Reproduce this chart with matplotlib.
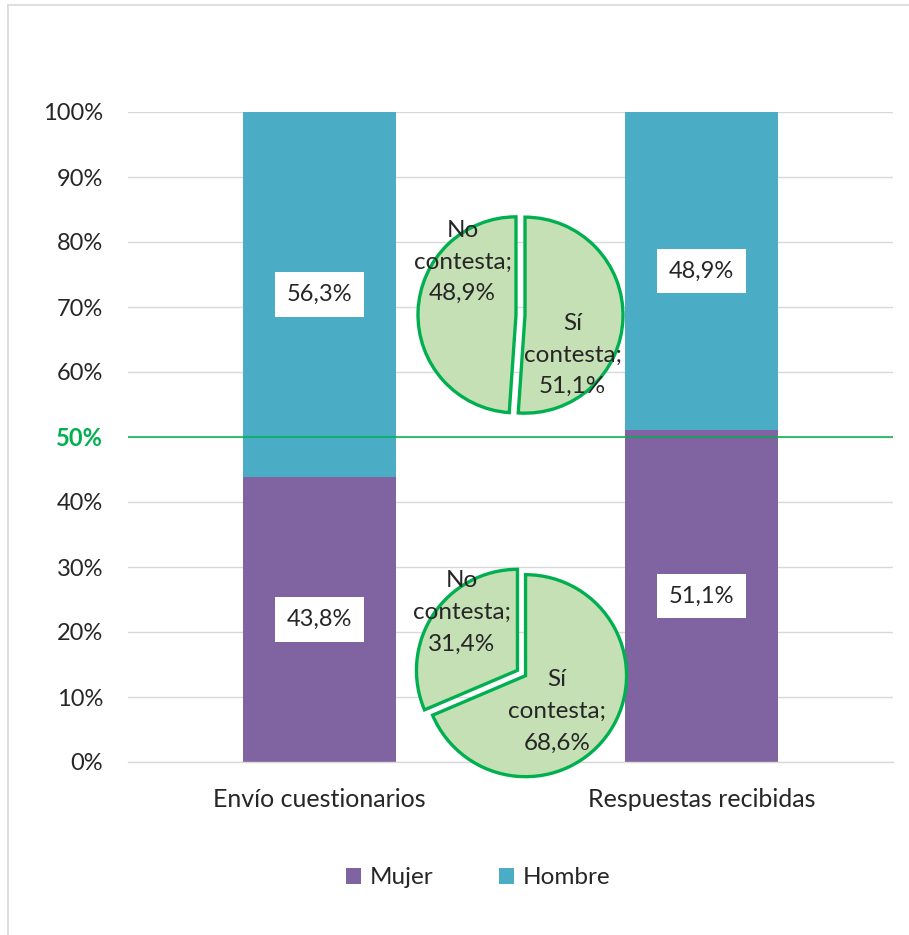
import matplotlib
matplotlib.use("Agg")
import matplotlib.pyplot as plt
from matplotlib.patches import Patch
from matplotlib.lines import Line2D

plt.rcParams['font.family'] = ['Lato', 'DejaVu Sans']

# Data
categories = ["Envío cuestionarios", "Respuestas recibidas"]
mujer = [43.8, 51.1]
hombre = [56.3, 48.9]
series_names = ["Mujer", "Hombre"]

pie_labels = ["Sí\ncontesta;", "No\ncontesta;"]
pie_top = [51.1, 48.9]
pie_bottom = [68.6, 31.4]

yticks = list(range(0, 101, 10))
reference_level = 50

PURPLE = "#8064A2"
TEAL = "#4BACC6"
GREEN = "#00B050"
PIE_FILL = "#C5E0B4"
GRID = "#D9D9D9"
TEXT = "#262626"

W, H = 909, 935
fig = plt.figure(figsize=(W / 100, H / 100), dpi=100)


def fx(px):
    return px / W


def fy(py):
    return 1 - py / H


def pct(v):
    return f"{v:.1f}".replace(".", ",") + "%"


# Chart area border (top and left edges)
fig.add_artist(Line2D([fx(8), fx(8)], [fy(5), 0], color=GRID, lw=1.2))
fig.add_artist(Line2D([fx(8), 1], [fy(5), fy(5)], color=GRID, lw=1.2))

# Main stacked bar axes
left, right, top, bottom = 128, 893, 112, 762
ax = fig.add_axes([fx(left), fy(bottom), fx(right - left), (bottom - top) / H])
x = list(range(len(categories)))
bw = 0.4
ax.bar(x, mujer, width=bw, color=PURPLE, zorder=2)
ax.bar(x, hombre, width=bw, bottom=mujer, color=TEAL, zorder=2)

box = dict(boxstyle="square,pad=0.5", fc="white", ec="none")
for i in x:
    ax.text(i, mujer[i] / 2, pct(mujer[i]), ha="center", va="center",
            fontsize=17, color=TEXT, bbox=box, zorder=4)
    ax.text(i, mujer[i] + hombre[i] / 2, pct(hombre[i]), ha="center",
            va="center", fontsize=17, color=TEXT, bbox=box, zorder=4)

ax.axhline(reference_level, color=GREEN, lw=1.3, zorder=3, alpha=0.85)

ax.set_xlim(-0.5, len(categories) - 0.5)
ax.set_ylim(0, 100)
ax.set_yticks(yticks)
ax.set_yticklabels([f"{t}%" for t in yticks])
ax.set_xticks(x)
ax.set_xticklabels(categories, fontsize=18)
ax.tick_params(axis="both", length=0, labelcolor=TEXT)
ax.tick_params(axis="y", pad=18, labelsize=17)
ax.tick_params(axis="x", pad=19)
for lbl, t in zip(ax.get_yticklabels(), yticks):
    if t == reference_level:
        lbl.set_color(GREEN)
        lbl.set_fontweight("bold")
ax.yaxis.grid(True, color=GRID, lw=1.0, zorder=0)
ax.set_axisbelow(True)
for s in ["left", "right", "top"]:
    ax.spines[s].set_visible(False)
ax.spines["bottom"].set_color(GRID)
ax.spines["bottom"].set_linewidth(1.0)

# Legend
handles = [Patch(facecolor=PURPLE, label=series_names[0]),
           Patch(facecolor=TEAL, label=series_names[1])]
fig.legend(handles=handles, loc="center", bbox_to_anchor=(fx(478), fy(878)),
           ncol=2, frameon=False, fontsize=17.5, handlelength=0.62,
           handleheight=0.62, handletextpad=0.35, columnspacing=2.7,
           labelcolor=TEXT)


# Pie insets
def draw_pie(values, cx, cy, radius, explode, no_pos, si_pos):
    lim = 1.15
    size = 2 * lim * radius
    pax = fig.add_axes([fx(cx - size / 2), fy(cy + size / 2), size / W, size / H])
    pax.pie(values, startangle=90, counterclock=False,
            explode=[explode, explode], colors=[PIE_FILL, PIE_FILL],
            wedgeprops=dict(edgecolor=GREEN, linewidth=2.4))
    pax.set_xlim(-lim, lim)
    pax.set_ylim(-lim, lim)
    pax.set_aspect("equal")
    pax.axis("off")
    pax.patch.set_alpha(0)
    pax.text(*si_pos, pie_labels[0] + "\n" + pct(values[0]), ha="center",
             va="center", fontsize=17.5, color=TEXT, linespacing=1.62)
    pax.text(*no_pos, pie_labels[1] + "\n" + pct(values[1]), ha="center",
             va="center", fontsize=17.5, color=TEXT, linespacing=1.62)


draw_pie(pie_top, 520.5, 315, 98, 0.046, (-0.59, 0.54), (0.53, -0.41))
draw_pie(pie_bottom, 521.5, 673, 101, 0.048, (-0.59, 0.60), (0.35, -0.38))

fig.savefig("out.png", dpi=100)
